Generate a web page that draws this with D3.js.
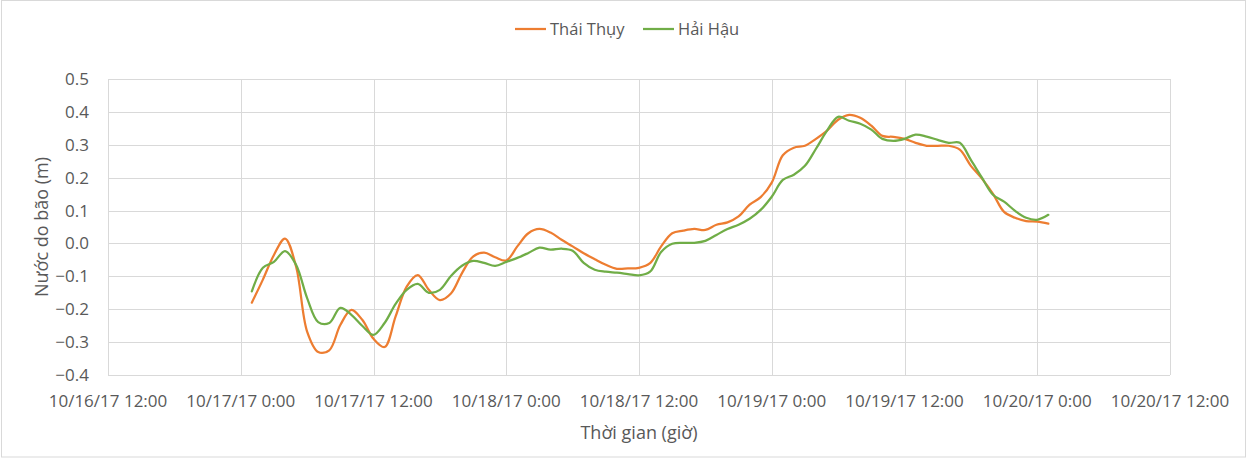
<!doctype html>
<html>
<head>
  <meta charset="utf-8">
  <script src="https://cdnjs.cloudflare.com/ajax/libs/d3/7.8.5/d3.min.js"></script>
  <style>
    body { margin: 0; background: #fff; }
    svg { display: block; font-family: "Open Sans", "Noto Sans", sans-serif; }
  </style>
</head>
<body>
  <svg width="1248" height="459"></svg>
  <script>
// hourly readings, 10/17/17 1:00 -> 10/20/17 1:00
var seriesNames = ["Thái Thụy", "Hải Hậu"];
var seriesColors = ["#ED7D31", "#70AD47"];

var thaiThuy = [
  -0.18, -0.11, -0.035, 0.015, -0.07, -0.268, -0.33, -0.325, -0.248, -0.202,
  -0.233, -0.29, -0.315, -0.222, -0.131, -0.096, -0.141, -0.172, -0.152, -0.09,
  -0.04, -0.028, -0.042, -0.052, -0.009, 0.031, 0.044, 0.033, 0.011, -0.009,
  -0.03, -0.048, -0.065, -0.077, -0.076, -0.074, -0.06, -0.009, 0.031, 0.039,
  0.044, 0.041, 0.057, 0.064, 0.082, 0.118, 0.141, 0.185, 0.268, 0.291,
  0.297, 0.318, 0.343, 0.376, 0.391, 0.382, 0.358, 0.327, 0.324, 0.318,
  0.306, 0.297, 0.297, 0.297, 0.285, 0.236, 0.197, 0.151, 0.096, 0.078,
  0.068, 0.066, 0.06
];

var haiHau = [
  -0.146, -0.074, -0.056, -0.023, -0.065, -0.166, -0.239, -0.242, -0.196, -0.217,
  -0.251, -0.278, -0.242, -0.184, -0.141, -0.123, -0.15, -0.141, -0.099, -0.068,
  -0.053, -0.059, -0.068, -0.056, -0.044, -0.029, -0.013, -0.019, -0.016, -0.022,
  -0.059, -0.08, -0.086, -0.089, -0.093, -0.097, -0.086, -0.026, -0.001, 0.002,
  0.002, 0.008, 0.026, 0.044, 0.057, 0.075, 0.102, 0.142, 0.193, 0.209,
  0.236, 0.288, 0.343, 0.385, 0.373, 0.364, 0.346, 0.318, 0.312, 0.318,
  0.331, 0.325, 0.315, 0.306, 0.306, 0.254, 0.2, 0.148, 0.127, 0.099,
  0.078, 0.072, 0.087
];

var startTime = new Date(2017, 9, 17, 1);
var times = d3.timeHour.range(startTime, d3.timeHour.offset(startTime, thaiThuy.length));

var yTicks = [-0.4, -0.3, -0.2, -0.1, 0.0, 0.1, 0.2, 0.3, 0.4, 0.5];

var svg = d3.select("svg");
var W = 1248, H = 459;
var plotL = 108, plotR = 1170, plotT = 79, plotB = 375;
var textColor = "#595959";

svg.append("rect")
  .attr("x", 1.5).attr("y", 0.5).attr("width", W - 4).attr("height", H - 2.5)
  .attr("fill", "#fff").attr("stroke", "#d9d9d9");

var x = d3.scaleTime()
  .domain([new Date(2017, 9, 16, 12), new Date(2017, 9, 20, 12)])
  .range([plotL, plotR]);
var y = d3.scaleLinear().domain([-0.4, 0.5]).range([plotB, plotT]);

var xTicks = d3.timeHour.every(12).range(x.domain()[0], d3.timeHour.offset(x.domain()[1], 1));
var fmt = d3.timeFormat("%-m/%-d/%y %-H:%M");

// grid
var grid = svg.append("g").attr("stroke", "#d9d9d9").attr("stroke-width", 1);
grid.selectAll(".h").data(yTicks).enter().append("line")
  .attr("x1", plotL).attr("x2", plotR)
  .attr("y1", d => Math.round(y(d)) + 0.5).attr("y2", d => Math.round(y(d)) + 0.5);
grid.selectAll(".v").data(xTicks).enter().append("line")
  .attr("y1", plotT).attr("y2", plotB)
  .attr("x1", d => Math.round(x(d)) + 0.5).attr("x2", d => Math.round(x(d)) + 0.5);

// tick labels
svg.append("g").selectAll("text").data(yTicks).enter().append("text")
  .attr("x", 89).attr("y", d => y(d)).attr("dy", "0.35em")
  .attr("text-anchor", "end").attr("fill", textColor).attr("font-size", 17)
  .text(d => d3.format(".1f")(d));

svg.append("g").selectAll("text").data(xTicks).enter().append("text")
  .attr("x", d => x(d)).attr("y", 401).attr("dy", "0.35em")
  .attr("text-anchor", "middle").attr("fill", textColor).attr("font-size", 17)
  .text(d => fmt(d));

// axis titles
svg.append("text")
  .attr("x", 639).attr("y", 433).attr("dy", "0.35em")
  .attr("text-anchor", "middle").attr("fill", textColor).attr("font-size", 18)
  .text("Thời gian (giờ)");
svg.append("text")
  .attr("transform", "translate(42,227) rotate(-90)").attr("dy", "0.35em")
  .attr("text-anchor", "middle").attr("fill", textColor).attr("font-size", 18)
  .text("Nước do bão (m)");

// lines
var line = d3.line()
  .x((d, i) => x(times[i]))
  .y(d => y(d))
  .curve(d3.curveCatmullRom.alpha(0.5));

[thaiThuy, haiHau].forEach((s, k) => {
  svg.append("path").datum(s)
    .attr("d", line)
    .attr("fill", "none")
    .attr("stroke", seriesColors[k])
    .attr("stroke-width", 2.25)
    .attr("stroke-linejoin", "round")
    .attr("stroke-linecap", "round");
});

// legend
var legendX = [515, 643];
var lg = svg.append("g").selectAll("g").data(seriesNames).enter().append("g")
  .attr("transform", (d, i) => "translate(" + legendX[i] + ",29)");
lg.append("line").attr("x1", 0).attr("x2", 31)
  .attr("stroke", (d, i) => seriesColors[i]).attr("stroke-width", 2.25);
lg.append("text").attr("x", 35).attr("dy", "0.35em")
  .attr("fill", textColor).attr("font-size", 16.5)
  .text(d => d);
  </script>
</body>
</html>
